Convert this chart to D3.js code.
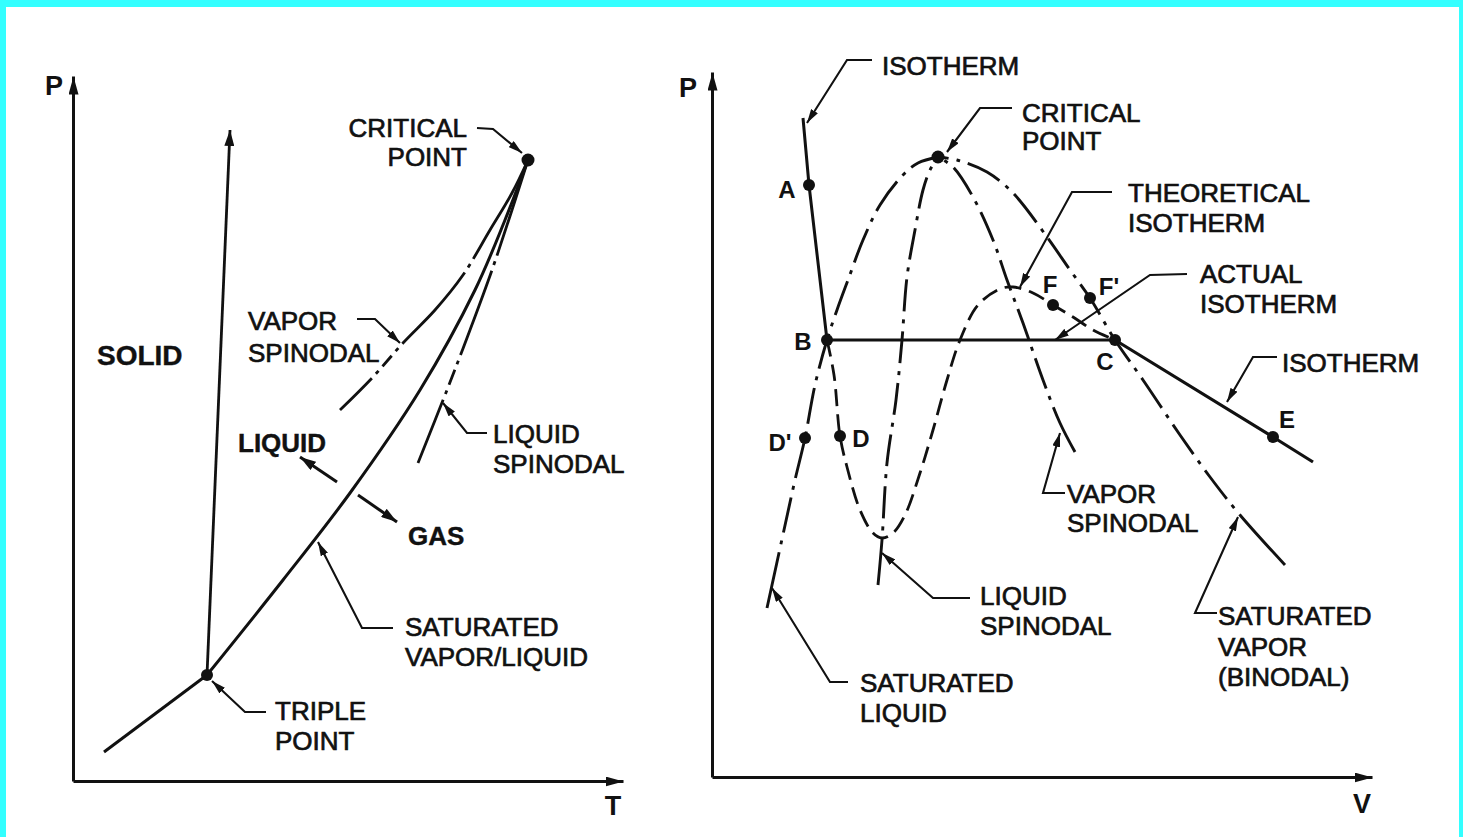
<!DOCTYPE html>
<html lang="en">
<head>
<meta charset="utf-8">
<title>P-T and P-V phase diagrams</title>
<script src="https://cdn.jsdelivr.net/npm/d3@7"></script>
<style>
  html, body { margin: 0; padding: 0; background: #fff; }
  svg { display: block; }
  text { font-family: "Liberation Sans", Arial, Helvetica, sans-serif; fill: #111; }
</style>
</head>
<body>
<script>
// ---------- left panel: P-T diagram (arbitrary units) ----------
var tripleTP = [13.4, 10.6];
var criticalTP = [45.5, 62.1];
var sublimationTP = [[3.1, 2.9], [13.4, 10.6]];
var fusionTP = [[13.4, 10.6], [15.7, 65.1]];
var saturatedTP = [[13.4, 10.6], [21.0, 20.1], [27.7, 28.8], [34.7, 39.1], [40.2, 49.1], [43.2, 56.1], [45.5, 62.1]];
var vaporSpinodalTP = [[26.7, 37.1], [29.9, 40.3], [33.0, 43.8], [36.2, 47.1], [39.0, 50.6], [41.7, 55.1], [43.9, 58.8], [45.5, 62.1]];
var liquidSpinodalTP = [[34.5, 31.8], [37.4, 39.1], [39.7, 45.1], [41.9, 51.1], [43.9, 57.1], [45.5, 62.1]];

// ---------- right panel: P-V diagram (arbitrary units) ----------
var pointNames = ["A", "B", "C", "D", "D'", "E", "F", "F'"];
var pointVals = [[9.7, 59.2], [11.5, 43.7], [40.3, 43.7], [12.8, 34.1], [9.3, 33.9], [56.1, 34.0], [34.1, 47.2], [37.8, 47.9]];
var criticalPV = [22.6, 62.0];
var isothermLeft = [[9.1, 65.9], [9.7, 59.2], [11.5, 43.7]];
var actualIsotherm = [[11.5, 43.7], [40.3, 43.7]];
var isothermRight = [[40.3, 43.7], [56.1, 34.0], [60.1, 31.5]];
var theoreticalIsotherm = [[11.5, 43.7], [12.2, 40.2], [12.8, 34.1], [13.5, 31.0], [14.8, 26.7], [16.1, 24.4], [17.0, 23.9],
  [18.1, 24.4], [19.3, 26.2], [20.8, 30.4], [22.1, 34.7], [23.5, 39.7], [24.8, 43.7], [26.6, 47.2], [28.8, 48.8],
  [30.1, 49.0], [32.1, 48.4], [34.1, 47.2], [36.1, 46.0], [38.1, 44.7], [40.3, 43.7]];
var satLiquid = [[5.5, 16.9], [7.2, 24.7], [8.3, 29.7], [9.3, 33.9], [10.3, 39.2], [11.5, 43.7], [12.5, 46.7], [13.6, 49.7],
  [15.1, 53.7], [16.8, 57.2], [19.1, 60.2], [20.6, 61.4], [22.6, 62.0]];
var satVapor = [[57.3, 21.2], [52.8, 26.2], [49.8, 30.0], [46.8, 34.2], [43.1, 39.7], [40.3, 43.7], [37.8, 47.9], [35.8, 50.7],
  [33.5, 54.0], [30.1, 58.4], [27.5, 60.5], [24.5, 61.7], [22.6, 62.0]];
var liquidSpinodalPV = [[16.6, 19.2], [17.0, 23.7], [17.5, 31.4], [18.4, 37.7], [19.0, 43.7], [19.5, 50.0], [20.3, 54.7],
  [21.1, 58.7], [21.8, 60.7], [22.6, 62.0]];
var vaporSpinodalPV = [[36.3, 32.5], [34.8, 35.4], [33.1, 39.7], [31.1, 45.4], [29.5, 49.7], [28.1, 53.7], [26.1, 58.0],
  [24.1, 61.0], [22.6, 62.0]];

// annotations (text, position, leader) in each panel's units
var notesL = [
  {lines: ["CRITICAL", "POINT"], at: [39.4, 64.4], step: 2.9, anchor: "end", lead: [[40.4, 65.3], [42.0, 65.2], [44.9, 62.8]]},
  {lines: ["VAPOR", "SPINODAL"], at: [17.5, 45.1], step: 3.2, lead: [[28.4, 46.2], [30.2, 46.2], [32.7, 43.8]]},
  {lines: ["LIQUID", "SPINODAL"], at: [42.0, 33.8], step: 3.0, lead: [[41.4, 34.8], [39.4, 34.8], [37.0, 37.8]]},
  {lines: ["SATURATED", "VAPOR/LIQUID"], at: [33.2, 14.5], step: 3.0, lead: [[32.0, 15.3], [28.9, 15.3], [24.5, 23.9]]},
  {lines: ["TRIPLE", "POINT"], at: [20.2, 6.1], step: 3.0, lead: [[19.3, 6.9], [17.2, 6.9], [13.9, 10.0]]}
];
var regionsL = [{t: "SOLID", at: [2.4, 41.6]}, {t: "LIQUID", at: [16.5, 32.9]}, {t: "GAS", at: [33.5, 23.6]}];
var pushArrowsL = [[[26.4, 29.9], [22.7, 32.4]], [[28.5, 28.6], [32.4, 25.9]]];

var notesR = [
  {lines: ["ISOTHERM"], at: [17.0, 70.2], step: 3, lead: [[16.0, 71.7], [13.5, 71.7], [9.5, 65.4]]},
  {lines: ["CRITICAL", "POINT"], at: [31.0, 65.5], step: 2.8, lead: [[30.0, 66.9], [26.8, 66.9], [23.5, 62.5]]},
  {lines: ["THEORETICAL", "ISOTHERM"], at: [41.6, 57.5], step: 3.0, lead: [[40.0, 58.5], [36.0, 58.5], [30.8, 49.0]]},
  {lines: ["ACTUAL", "ISOTHERM"], at: [48.8, 49.4], step: 3.0, lead: [[47.5, 50.3], [43.8, 50.2], [34.3, 43.7]]},
  {lines: ["ISOTHERM"], at: [57.0, 40.5], step: 3, lead: [[56.5, 42.0], [54.1, 42.0], [51.5, 37.5]]},
  {lines: ["VAPOR", "SPINODAL"], at: [35.5, 27.4], step: 2.9, lead: [[35.3, 28.4], [33.1, 28.4], [34.8, 34.4]]},
  {lines: ["LIQUID", "SPINODAL"], at: [26.8, 17.2], step: 3.0, lead: [[25.8, 17.9], [22.1, 17.9], [17.0, 22.4]]},
  {lines: ["SATURATED", "LIQUID"], at: [14.8, 8.5], step: 3.0, lead: [[13.6, 9.5], [11.8, 9.5], [6.0, 18.9]]},
  {lines: ["SATURATED", "VAPOR", "(BINODAL)"], at: [50.6, 15.2], step: 3.05, lead: [[50.5, 16.4], [48.3, 16.4], [52.6, 26.0]]}
];
var pointLabelPos = [[7.5, 57.9], [9.1, 42.7], [39.3, 40.7], [14.9, 33.0], [6.8, 32.6], [57.5, 34.9], [33.8, 48.4], [39.7, 48.2]];

// ---------- drawing ----------
var W = 1463, H = 837, ink = "#111";
var svg = d3.select("body").append("svg").attr("width", W).attr("height", H);
svg.append("rect").attr("width", W).attr("height", H).attr("fill", "#fff");

// cyan frame of the scan
svg.append("rect").attr("x", 0).attr("y", 0).attr("width", W).attr("height", 7).attr("fill", "#33ffff");
svg.append("rect").attr("x", 0).attr("y", 0).attr("width", 6).attr("height", H).attr("fill", "#33ffff");
svg.append("rect").attr("x", 1459).attr("y", 0).attr("width", 4).attr("height", H).attr("fill", "#33ffff");

var defs = svg.append("defs");
function marker(id, len, wid) {
  defs.append("marker").attr("id", id)
    .attr("viewBox", "0 0 " + len + " " + wid)
    .attr("refX", len).attr("refY", wid / 2)
    .attr("markerWidth", len).attr("markerHeight", wid)
    .attr("markerUnits", "userSpaceOnUse").attr("orient", "auto")
    .append("path").attr("d", "M0,0L" + len + "," + (wid / 2) + "L0," + wid + "Z").attr("fill", ink);
}
marker("axisHead", 18, 10);
marker("leadHead", 14, 8);
marker("bigHead", 16, 10);

var xL = d3.scaleLinear().domain([0, 55]).range([73, 623]);
var yL = d3.scaleLinear().domain([0, 70.5]).range([781, 76]);
var xR = d3.scaleLinear().domain([0, 66]).range([712, 1372]);
var yR = d3.scaleLinear().domain([0, 70.5]).range([777, 72]);

function drawAxes(xs, ys, xName, yName) {
  var gx = svg.append("g").attr("transform", "translate(0," + ys(0) + ")")
    .call(d3.axisBottom(xs).tickValues([]).tickSizeOuter(0));
  var gy = svg.append("g").attr("transform", "translate(" + xs(0) + ",0)")
    .call(d3.axisLeft(ys).tickValues([]).tickSizeOuter(0));
  [gx, gy].forEach(function(g) {
    g.select(".domain").attr("stroke", ink).attr("stroke-width", 3).attr("marker-end", "url(#axisHead)");
  });
  svg.append("text").attr("x", xs(xName.at[0])).attr("y", ys(xName.at[1]))
    .attr("text-anchor", "middle").attr("font-size", 27).attr("font-weight", "bold").text(xName.t);
  svg.append("text").attr("x", xs(yName.at[0])).attr("y", ys(yName.at[1]))
    .attr("text-anchor", "middle").attr("font-size", 27).attr("font-weight", "bold").text(yName.t);
}

function curve(xs, ys, pts, dash, width, straight) {
  var line = d3.line().x(function(d) { return xs(d[0]); }).y(function(d) { return ys(d[1]); })
    .curve(straight ? d3.curveLinear : d3.curveCatmullRom.alpha(0.5));
  return svg.append("path").attr("d", line(pts)).attr("fill", "none")
    .attr("stroke", ink).attr("stroke-width", width || 3)
    .attr("stroke-dasharray", dash ? dash.join(",") : null);
}

// dash-dot pattern: a solid first stretch, then dash / dot repeats
function dashDot(first, dash, n) {
  var a = [first];
  for (var i = 0; i < n; i++) a.push(8, 4, 8, dash);
  a.push(8, 4, 8, 3000);
  return a;
}

function dot(xs, ys, p, r) {
  svg.append("circle").attr("cx", xs(p[0])).attr("cy", ys(p[1])).attr("r", r || 6).attr("fill", ink);
}

function notes(xs, ys, list) {
  list.forEach(function(n) {
    n.lines.forEach(function(t, i) {
      svg.append("text").attr("x", xs(n.at[0])).attr("y", ys(n.at[1] - i * n.step))
        .attr("text-anchor", n.anchor || "start").attr("font-size", 26)
        .attr("stroke", ink).attr("stroke-width", 0.7).text(t);
    });
    curve(xs, ys, n.lead, null, 2.1, true).attr("marker-end", "url(#leadHead)");
  });
}

// ----- left panel -----
drawAxes(xL, yL, {t: "T", at: [54.0, -3.4]}, {t: "P", at: [-1.9, 68.6]});
curve(xL, yL, sublimationTP, null, 3, true);
curve(xL, yL, fusionTP, null, 2.8, true).attr("marker-end", "url(#bigHead)");
curve(xL, yL, saturatedTP);
curve(xL, yL, vaporSpinodalTP, [45, 6, 4, 6, 14, 6, 4, 6, 95, 6, 4, 6, 3000], 2.8);
curve(xL, yL, liquidSpinodalTP, [68, 6, 4, 6, 16, 6, 4, 6, 90, 6, 4, 6, 3000], 2.8);
dot(xL, yL, tripleTP);
dot(xL, yL, criticalTP, 6.5);
notes(xL, yL, notesL);
regionsL.forEach(function(r) {
  svg.append("text").attr("x", xL(r.at[0])).attr("y", yL(r.at[1]))
    .attr("font-size", r.t === "SOLID" ? 28 : 26).attr("font-weight", "bold")
    .attr("stroke", ink).attr("stroke-width", 0.4).text(r.t);
});
pushArrowsL.forEach(function(a) {
  curve(xL, yL, a, null, 3, true).attr("marker-end", "url(#bigHead)");
});

// ----- right panel -----
drawAxes(xR, yR, {t: "V", at: [65.0, -3.6]}, {t: "P", at: [-2.4, 68.0]});
curve(xR, yR, isothermLeft, null, 3, true);
curve(xR, yR, actualIsotherm, null, 3, true);
curve(xR, yR, isothermRight, null, 3.2, true);
curve(xR, yR, theoreticalIsotherm, [17, 8], 2.8);
curve(xR, yR, satLiquid, dashDot(57, 36, 12), 2.9);
curve(xR, yR, satVapor, dashDot(68, 36, 14), 2.9);
curve(xR, yR, liquidSpinodalPV, dashDot(47, 32, 12), 2.9);
curve(xR, yR, vaporSpinodalPV, dashDot(50, 32, 12), 2.9);
pointVals.forEach(function(p) { dot(xR, yR, p); });
dot(xR, yR, criticalPV, 6.5);
pointNames.forEach(function(n, i) {
  svg.append("text").attr("x", xR(pointLabelPos[i][0])).attr("y", yR(pointLabelPos[i][1]))
    .attr("text-anchor", "middle").attr("font-size", 24).attr("font-weight", "bold").text(n);
});
notes(xR, yR, notesR);
</script>
</body>
</html>
